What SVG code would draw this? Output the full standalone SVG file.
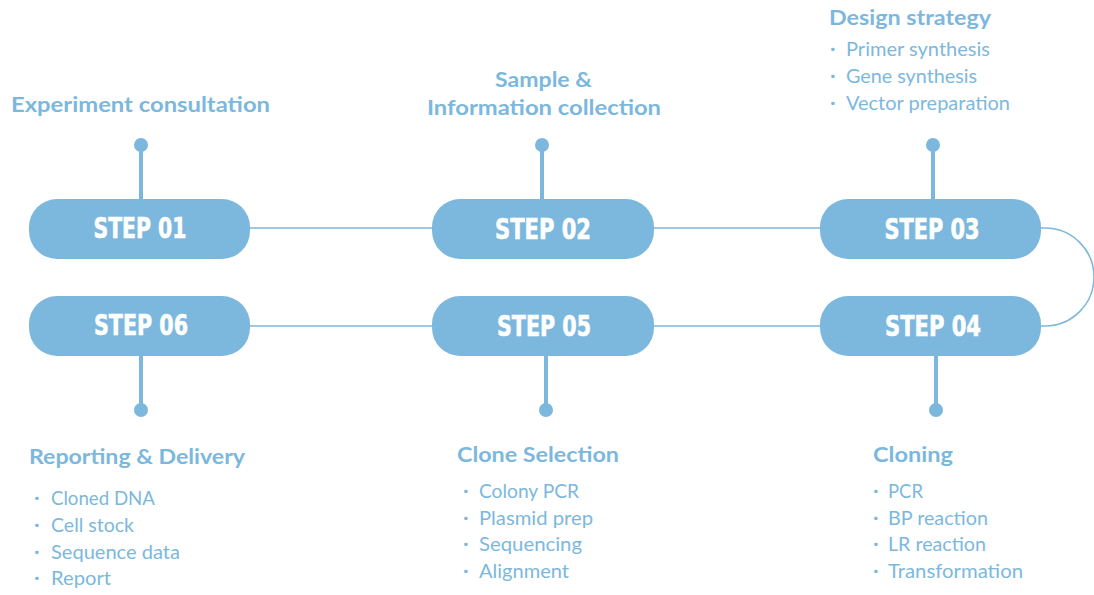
<svg xmlns="http://www.w3.org/2000/svg" width="1094" height="595" viewBox="0 0 1094 595">
<style>
.pill{fill:#7cb8dd}
.step{fill:#fff;stroke:#fff;stroke-width:0.6;font-family:"DejaVu Sans Condensed","Liberation Sans",sans-serif;font-weight:bold;font-size:28px;text-anchor:middle}
.title{fill:#7cb8dd;font-family:"Lato","Noto Sans",sans-serif;font-weight:bold;font-size:21px}
.item{fill:#7cb8dd;font-family:"Lato","Noto Sans",sans-serif;font-size:19px}
.dot{fill:#7cb8dd;font-family:"Noto Sans",sans-serif;font-size:20px;font-weight:bold}
.stem{stroke:#7cb8dd;stroke-width:4}
.link{stroke:#7cb8dd;stroke-width:1.6;fill:none}
</style>
<rect width="1094" height="595" fill="#fff"/>
<g id="connectors">
<path class="link" d="M250,228H432M654,228H820M250,326H432M654,326H820"/>
<path class="link" d="M1041,228H1045A49,49 0 0 1 1045,326H1041"/>
</g>
<g id="step01">
<line class="stem" x1="141" y1="145" x2="141" y2="200"/><circle cx="141" cy="145" r="7" class="pill"/>
<rect class="pill" x="29" y="199" width="221" height="60" rx="28"/>
<text class="step" x="140" y="238" textLength="93" lengthAdjust="spacingAndGlyphs">STEP 01</text>
<text class="title" x="11" y="112" textLength="259" lengthAdjust="spacingAndGlyphs">Experiment consultation</text>
</g>
<g id="step02">
<line class="stem" x1="542" y1="145" x2="542" y2="200"/><circle cx="542" cy="145" r="7" class="pill"/>
<rect class="pill" x="432" y="199" width="222" height="60" rx="28"/>
<text class="step" x="543" y="239" textLength="96" lengthAdjust="spacingAndGlyphs">STEP 02</text>
<text class="title" x="495" y="87" textLength="97" lengthAdjust="spacingAndGlyphs">Sample &amp;</text>
<text class="title" x="427" y="115" textLength="234" lengthAdjust="spacingAndGlyphs">Information collection</text>
</g>
<g id="step03">
<line class="stem" x1="933" y1="145" x2="933" y2="200"/><circle cx="933" cy="145" r="7" class="pill"/>
<rect class="pill" x="820" y="199" width="221" height="60" rx="28"/>
<text class="step" x="932" y="239" textLength="95" lengthAdjust="spacingAndGlyphs">STEP 03</text>
<text class="title" x="829" y="25" textLength="162" lengthAdjust="spacingAndGlyphs">Design strategy</text>
<text class="dot" x="830" y="56">·</text><text class="item" x="846" y="56" textLength="144" lengthAdjust="spacingAndGlyphs">Primer synthesis</text>
<text class="dot" x="830" y="83">·</text><text class="item" x="846" y="83" textLength="131" lengthAdjust="spacingAndGlyphs">Gene synthesis</text>
<text class="dot" x="830" y="110">·</text><text class="item" x="846" y="110" textLength="164" lengthAdjust="spacingAndGlyphs">Vector preparation</text>
</g>
<g id="step04">
<line class="stem" x1="936" y1="355" x2="936" y2="410"/><circle cx="936" cy="410" r="7" class="pill"/>
<rect class="pill" x="820" y="296" width="221" height="60" rx="28"/>
<text class="step" x="933" y="336" textLength="96" lengthAdjust="spacingAndGlyphs">STEP 04</text>
<text class="title" x="873" y="462" textLength="80" lengthAdjust="spacingAndGlyphs">Cloning</text>
<text class="dot" x="873" y="498">·</text><text class="item" x="888" y="498" textLength="35" lengthAdjust="spacingAndGlyphs">PCR</text>
<text class="dot" x="873" y="525">·</text><text class="item" x="888" y="525" textLength="100" lengthAdjust="spacingAndGlyphs">BP reaction</text>
<text class="dot" x="873" y="551">·</text><text class="item" x="888" y="551" textLength="98" lengthAdjust="spacingAndGlyphs">LR reaction</text>
<text class="dot" x="873" y="578">·</text><text class="item" x="888" y="578" textLength="135" lengthAdjust="spacingAndGlyphs">Transformation</text>
</g>
<g id="step05">
<line class="stem" x1="546" y1="355" x2="546" y2="410"/><circle cx="546" cy="410" r="7" class="pill"/>
<rect class="pill" x="432" y="296" width="222" height="60" rx="28"/>
<text class="step" x="544" y="336" textLength="94" lengthAdjust="spacingAndGlyphs">STEP 05</text>
<text class="title" x="457" y="462" textLength="162" lengthAdjust="spacingAndGlyphs">Clone Selection</text>
<text class="dot" x="463" y="498">·</text><text class="item" x="479" y="498" textLength="100" lengthAdjust="spacingAndGlyphs">Colony PCR</text>
<text class="dot" x="463" y="525">·</text><text class="item" x="479" y="525" textLength="114" lengthAdjust="spacingAndGlyphs">Plasmid prep</text>
<text class="dot" x="463" y="551">·</text><text class="item" x="479" y="551" textLength="103" lengthAdjust="spacingAndGlyphs">Sequencing</text>
<text class="dot" x="463" y="578">·</text><text class="item" x="479" y="578" textLength="90" lengthAdjust="spacingAndGlyphs">Alignment</text>
</g>
<g id="step06">
<line class="stem" x1="141" y1="355" x2="141" y2="410"/><circle cx="141" cy="410" r="7" class="pill"/>
<rect class="pill" x="29" y="296" width="221" height="60" rx="28"/>
<text class="step" x="141" y="335" textLength="94" lengthAdjust="spacingAndGlyphs">STEP 06</text>
<text class="title" x="29" y="464" textLength="216" lengthAdjust="spacingAndGlyphs">Reporting &amp; Delivery</text>
<text class="dot" x="34" y="505">·</text><text class="item" x="51" y="505" textLength="104" lengthAdjust="spacingAndGlyphs">Cloned DNA</text>
<text class="dot" x="34" y="532">·</text><text class="item" x="51" y="532" textLength="83" lengthAdjust="spacingAndGlyphs">Cell stock</text>
<text class="dot" x="34" y="559">·</text><text class="item" x="51" y="559" textLength="129" lengthAdjust="spacingAndGlyphs">Sequence data</text>
<text class="dot" x="34" y="585">·</text><text class="item" x="51" y="585" textLength="60" lengthAdjust="spacingAndGlyphs">Report</text>
</g>
</svg>
